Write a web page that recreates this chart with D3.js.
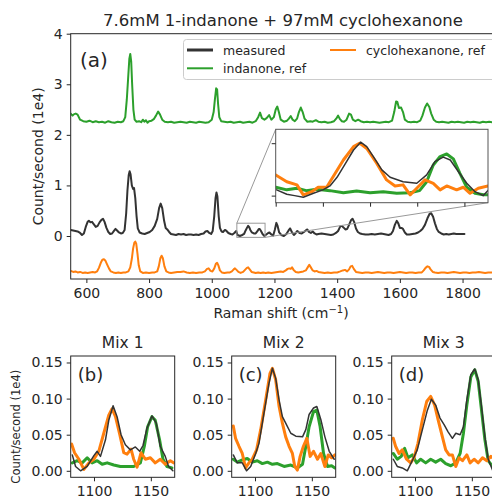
<!DOCTYPE html>
<html>
<head>
<meta charset="utf-8">
<script src="https://cdn.jsdelivr.net/npm/d3@7/dist/d3.min.js"></script>
<style>
  html, body { margin: 0; padding: 0; background: #fff; }
  svg { display: block; }
  text { font-family: "DejaVu Sans", sans-serif; fill: #262626; }
</style>
</head>
<body>
<svg id="fig" width="492" height="499"></svg>
<script>
// ---- spectra: [Raman shift (cm^-1), counts/s (1e4)] ----
const measuredMain = [
  [550,0.12],[558,0.11],[565,0.10],[572,0.09],[580,0.06],[586,0.02],[592,0.05],[598,0.18],[604,0.28],[608,0.30],
  [613,0.27],[618,0.28],[624,0.23],[630,0.18],[636,0.20],[642,0.27],[648,0.32],[653,0.34],[658,0.28],[664,0.16],
  [670,0.08],[676,0.04],[682,0.05],[688,0.10],[693,0.14],[698,0.11],[704,0.07],[710,0.05],[716,0.06],[722,0.12],
  [727,0.45],[731,0.90],[735,1.20],[738,1.28],[741,1.22],[745,1.00],[749,0.93],[752,0.95],[756,0.75],[760,0.40],
  [764,0.15],[770,0.07],[778,0.05],[786,0.04],[794,0.06],[802,0.08],[810,0.12],[818,0.20],[826,0.34],[832,0.55],
  [837,0.64],[842,0.55],[848,0.30],[853,0.16],[858,0.13],[864,0.08],[870,0.04],[878,0.03],[886,0.02],[894,0.04],
  [902,0.03],[910,0.04],[918,0.02],[926,0.03],[934,0.03],[942,0.02],[950,0.03],[958,0.02],[966,0.04],[974,0.05],
  [980,0.09],[986,0.10],[992,0.06],[998,0.04],[1003,0.10],[1008,0.40],[1012,0.75],[1015,0.86],[1018,0.78],[1022,0.40],
  [1026,0.16],[1031,0.09],[1036,0.08],[1042,0.12],[1047,0.10],[1053,0.06],[1060,0.04],[1066,0.03],[1072,0.06],[1078,0.10],
  [1082,0.02],[1090,0.00],[1097,0.02],[1103,0.04],[1108,0.11],[1113,0.17],[1116,0.20],[1119,0.18],[1123,0.12],[1128,0.07],
  [1134,0.05],[1140,0.05],[1145,0.09],[1150,0.14],[1153,0.14],[1157,0.10],[1162,0.04],[1168,0.00],[1174,0.03],[1180,0.06],
  [1184,0.07],[1190,0.03],[1196,0.01],[1201,0.12],[1206,0.26],[1210,0.20],[1215,0.07],[1222,0.02],[1230,0.00],[1238,0.04],
  [1245,0.11],[1250,0.15],[1256,0.07],[1262,0.02],[1268,0.06],[1273,0.10],[1280,0.06],[1287,0.05],[1294,0.08],[1300,0.11],
  [1305,0.13],[1310,0.08],[1316,0.06],[1322,0.09],[1328,0.05],[1334,0.03],[1340,0.04],[1350,0.05],[1360,0.04],[1370,0.03],
  [1380,0.02],[1388,0.03],[1396,0.06],[1403,0.10],[1410,0.19],[1415,0.20],[1420,0.17],[1426,0.13],[1432,0.14],[1438,0.22],
  [1444,0.31],[1449,0.34],[1454,0.28],[1460,0.15],[1466,0.08],[1473,0.05],[1480,0.04],[1490,0.03],[1500,0.03],[1510,0.04],
  [1520,0.03],[1530,0.04],[1540,0.05],[1548,0.04],[1556,0.03],[1564,0.02],[1572,0.04],[1578,0.10],[1584,0.22],[1590,0.30],
  [1595,0.25],[1600,0.16],[1605,0.16],[1610,0.14],[1616,0.07],[1622,0.03],[1630,0.03],[1640,0.04],[1650,0.05],[1658,0.07],
  [1665,0.10],[1672,0.14],[1680,0.22],[1688,0.35],[1695,0.44],[1700,0.45],[1706,0.38],[1712,0.25],[1718,0.14],[1724,0.08],
  [1732,0.05],[1740,0.03],[1748,0.04],[1756,0.03],[1764,0.04],[1772,0.05],[1780,0.04],[1790,0.04],[1800,0.04],[1806,0.04]
];
const indanoneMain = [
  [550,2.42],[556,2.38],[561,2.41],[566,2.42],[572,2.40],[580,2.30],[590,2.27],[600,2.26],[610,2.28],[620,2.25],
  [630,2.27],[640,2.25],[650,2.26],[660,2.24],[670,2.27],[680,2.25],[690,2.24],[700,2.26],[710,2.25],[718,2.27],
  [724,2.35],[729,2.70],[733,3.10],[737,3.50],[740,3.60],[743,3.45],[746,3.00],[750,2.50],[754,2.30],[760,2.26],
  [768,2.27],[775,2.25],[780,2.30],[785,2.26],[790,2.29],[795,2.24],[800,2.27],[808,2.28],[815,2.31],[822,2.38],
  [829,2.46],[835,2.40],[842,2.30],[850,2.26],[860,2.25],[870,2.26],[880,2.24],[890,2.25],[900,2.26],[910,2.25],
  [920,2.24],[930,2.26],[940,2.25],[950,2.24],[960,2.26],[970,2.25],[980,2.24],[990,2.25],[1000,2.30],[1006,2.45],
  [1010,2.70],[1014,2.92],[1017,2.90],[1020,2.62],[1024,2.35],[1030,2.27],[1040,2.26],[1050,2.25],[1060,2.26],[1070,2.24],
  [1080,2.25],[1090,2.26],[1100,2.24],[1110,2.25],[1120,2.26],[1130,2.24],[1140,2.27],[1148,2.35],[1154,2.44],[1160,2.33],
  [1168,2.30],[1175,2.33],[1183,2.39],[1190,2.30],[1198,2.35],[1204,2.50],[1209,2.56],[1214,2.45],[1220,2.30],[1230,2.26],
  [1240,2.28],[1246,2.32],[1252,2.37],[1258,2.30],[1265,2.27],[1272,2.32],[1278,2.45],[1284,2.54],[1290,2.45],[1296,2.32],
  [1305,2.26],[1315,2.27],[1322,2.26],[1332,2.29],[1340,2.26],[1350,2.25],[1360,2.26],[1370,2.24],[1380,2.25],[1390,2.27],
  [1397,2.32],[1403,2.38],[1409,2.31],[1415,2.27],[1422,2.26],[1430,2.30],[1438,2.42],[1444,2.40],[1450,2.30],[1458,2.27],
  [1467,2.30],[1475,2.27],[1485,2.25],[1495,2.26],[1505,2.25],[1515,2.26],[1525,2.25],[1535,2.24],[1545,2.25],[1555,2.26],
  [1565,2.25],[1575,2.28],[1582,2.45],[1588,2.66],[1592,2.65],[1597,2.53],[1604,2.54],[1610,2.45],[1616,2.30],[1625,2.26],
  [1635,2.25],[1645,2.26],[1655,2.25],[1665,2.28],[1672,2.38],[1680,2.54],[1687,2.62],[1694,2.55],[1700,2.42],[1708,2.30],
  [1716,2.26],[1725,2.25],[1735,2.26],[1745,2.25],[1755,2.24],[1765,2.26],[1775,2.25],[1785,2.26],[1795,2.25],[1805,2.24],
  [1815,2.26],[1825,2.25],[1835,2.26],[1845,2.25],[1855,2.24],[1865,2.26],[1875,2.25],[1885,2.26],[1895,2.25]
];
const cyclohexanoneMain = [
  [550,-0.69],[558,-0.71],[565,-0.70],[572,-0.72],[580,-0.71],[588,-0.73],[596,-0.72],[604,-0.73],[612,-0.72],[620,-0.71],
  [628,-0.72],[634,-0.70],[640,-0.63],[646,-0.53],[651,-0.47],[656,-0.46],[661,-0.49],[666,-0.56],[672,-0.64],[678,-0.70],
  [686,-0.72],[694,-0.73],[702,-0.72],[710,-0.73],[718,-0.72],[726,-0.72],[734,-0.70],[740,-0.62],[745,-0.45],[749,-0.25],
  [753,-0.13],[756,-0.11],[759,-0.15],[763,-0.35],[767,-0.58],[772,-0.70],[780,-0.73],[790,-0.72],[800,-0.73],[810,-0.72],
  [818,-0.72],[826,-0.70],[831,-0.60],[836,-0.44],[840,-0.39],[844,-0.44],[849,-0.60],[855,-0.70],[862,-0.72],[870,-0.73],
  [880,-0.72],[890,-0.71],[900,-0.71],[910,-0.70],[920,-0.72],[930,-0.73],[940,-0.72],[950,-0.73],[960,-0.72],[970,-0.72],
  [978,-0.70],[985,-0.65],[990,-0.64],[996,-0.69],[1002,-0.70],[1008,-0.64],[1013,-0.55],[1017,-0.53],[1021,-0.58],[1026,-0.68],
  [1032,-0.72],[1040,-0.73],[1050,-0.72],[1058,-0.72],[1064,-0.70],[1070,-0.66],[1074,-0.64],[1079,-0.67],[1085,-0.71],[1092,-0.73],
  [1100,-0.71],[1106,-0.67],[1112,-0.63],[1116,-0.62],[1121,-0.66],[1127,-0.71],[1134,-0.72],[1140,-0.73],[1148,-0.72],[1156,-0.73],
  [1164,-0.72],[1172,-0.73],[1180,-0.72],[1190,-0.73],[1200,-0.72],[1210,-0.71],[1220,-0.70],[1228,-0.71],[1236,-0.68],[1242,-0.65],
  [1247,-0.64],[1252,-0.65],[1256,-0.62],[1261,-0.67],[1268,-0.71],[1276,-0.72],[1284,-0.71],[1292,-0.70],[1300,-0.68],[1306,-0.62],
  [1311,-0.57],[1316,-0.62],[1322,-0.68],[1328,-0.70],[1334,-0.69],[1340,-0.71],[1350,-0.72],[1360,-0.73],[1370,-0.72],[1380,-0.73],
  [1390,-0.72],[1400,-0.72],[1410,-0.70],[1418,-0.68],[1425,-0.67],[1432,-0.70],[1438,-0.66],[1443,-0.60],[1448,-0.59],[1453,-0.65],
  [1460,-0.71],[1470,-0.72],[1480,-0.73],[1490,-0.72],[1500,-0.72],[1510,-0.73],[1520,-0.72],[1530,-0.71],[1540,-0.72],[1550,-0.73],
  [1560,-0.72],[1570,-0.72],[1580,-0.73],[1590,-0.72],[1600,-0.71],[1610,-0.72],[1620,-0.73],[1630,-0.72],[1640,-0.72],[1650,-0.73],
  [1660,-0.72],[1670,-0.72],[1676,-0.68],[1682,-0.63],[1688,-0.60],[1693,-0.61],[1698,-0.66],[1705,-0.71],[1712,-0.72],[1722,-0.73],
  [1732,-0.72],[1742,-0.72],[1752,-0.73],[1762,-0.72],[1772,-0.71],[1782,-0.72],[1792,-0.73],[1802,-0.72],[1812,-0.72],[1822,-0.73],
  [1832,-0.72],[1842,-0.72],[1852,-0.71],[1862,-0.72],[1872,-0.73],[1882,-0.72],[1895,-0.72]
];

// zoomed window 1080-1170 cm^-1 of the main spectrum
const insetMeasured = [
  [1080.4,0.022],[1084.7,0.005],[1088,0.000],[1091.7,-0.006],[1096,0.009],[1100,0.022],[1103,0.037],[1106,0.07],[1108.7,0.11],
  [1113,0.174],[1116,0.204],[1118.6,0.187],[1121.4,0.149],[1125,0.098],[1128.5,0.07],[1134,0.053],[1139.8,0.047],[1144,0.079],
  [1147.5,0.13],[1151,0.147],[1154,0.136],[1157.4,0.092],[1161,0.047],[1164.5,0.015],[1168,0.0],[1170,0.02]
];
const insetIndanone = [
  [1080,0.032],[1084.7,0.022],[1089,0.028],[1093,0.019],[1097.4,0.024],[1103,0.019],[1108.7,0.011],[1114.3,0.018],[1120,0.011],
  [1125.6,0.015],[1131.3,0.009],[1137,0.011],[1141,0.019],[1144,0.053],[1146.8,0.117],[1149.7,0.149],[1152.5,0.159],[1155.3,0.14],
  [1158.1,0.085],[1161,0.032],[1164.5,0.009],[1168,0.003],[1170,0.003]
];
const insetCyclohexanone = [
  [1080,0.079],[1084.7,0.053],[1089,0.041],[1091.7,0.003],[1095.3,0.015],[1098,0.032],[1101.6,0.032],[1104.4,0.073],[1108.7,0.136],
  [1113,0.187],[1115.7,0.2],[1118.6,0.18],[1122.8,0.124],[1127,0.06],[1130.6,0.037],[1134,0.041],[1137,0.003],[1139.8,0.028],
  [1143.3,0.06],[1146.8,0.047],[1149.7,0.022],[1152.5,0.037],[1156.7,0.022],[1159.5,0.032],[1162.4,0.009],[1165.9,0.028],[1170,0.037]
];

// three mixtures, 1080-1170 cm^-1
const mix1Measured = [
  [1080.9,0.022],[1083.8,0.006],[1088.2,0.0],[1094,0.006],[1099.9,0.021],[1102.8,0.027],[1105.7,0.02],[1110.1,0.043],[1113,0.07],
  [1116.8,0.09],[1120.3,0.075],[1123.8,0.05],[1127.6,0.036],[1132,0.029],[1136.4,0.033],[1140.2,0.027],[1143.1,0.035],[1146.6,0.059],
  [1151,0.076],[1154.8,0.066],[1158.3,0.034],[1162.7,0.02],[1165.6,0.006],[1169.4,0.0]
];
const mix1Indanone = [
  [1080.9,0.011],[1085.2,0.014],[1089.6,0.011],[1094,0.018],[1098.4,0.011],[1102.8,0.014],[1107.2,0.009],[1111.6,0.011],[1117.4,0.008],
  [1123.2,0.006],[1129.1,0.006],[1134.9,0.006],[1140.8,0.011],[1144.3,0.034],[1147.2,0.061],[1151,0.075],[1153.9,0.07],[1157.7,0.043],
  [1160.7,0.016],[1164.2,0.006],[1168.6,0.004]
];
const mix1Cyclohexanone = [
  [1080.3,0.037],[1082.9,0.025],[1086.7,0.016],[1091.1,0.002],[1095.5,0.011],[1099.9,0.016],[1104.2,0.027],[1108.6,0.052],[1113,0.077],
  [1115.9,0.086],[1118.9,0.075],[1122.7,0.05],[1126.2,0.025],[1129.1,0.023],[1132.6,0.03],[1134.9,0.016],[1137.9,0.005],[1141.4,0.025],
  [1145.2,0.016],[1149.6,0.018],[1153.9,0.011],[1158.3,0.016],[1162.7,0.009],[1167.1,0.014],[1170,0.011]
];
const mix2Measured = [
  [1080.9,0.022],[1084.4,0.011],[1088.8,0.011],[1092.6,0.0],[1096.2,0.006],[1100.6,0.024],[1103.5,0.038],[1107.9,0.08],[1112.3,0.121],
  [1115.3,0.142],[1118.2,0.128],[1121.2,0.098],[1124.1,0.075],[1127,0.066],[1131.5,0.052],[1135.9,0.048],[1141.8,0.047],[1144.7,0.057],
  [1147.6,0.078],[1151.5,0.087],[1154.4,0.089],[1157.9,0.071],[1161.5,0.047],[1165.3,0.027],[1169.7,0.016]
];
const mix2Indanone = [
  [1080.9,0.016],[1084.4,0.012],[1088.8,0.015],[1093.2,0.017],[1097.6,0.012],[1102,0.014],[1106.5,0.01],[1110.9,0.012],[1115.3,0.009],
  [1119.7,0.01],[1125.6,0.006],[1131.5,0.008],[1137.3,0.004],[1141.8,0.009],[1144.7,0.034],[1147.6,0.061],[1151.5,0.082],[1154.4,0.084],
  [1157.3,0.061],[1160.3,0.024],[1163.8,0.006],[1167.4,0.007],[1170.3,0.004]
];
const mix2Cyclohexanone = [
  [1080.9,0.062],[1082.9,0.045],[1085.9,0.034],[1088.8,0.024],[1091.7,0.004],[1094.7,0.011],[1097.6,0.016],[1101.4,0.029],[1105,0.057],
  [1109.4,0.098],[1113.2,0.135],[1115.3,0.142],[1118.2,0.126],[1121.2,0.089],[1124.1,0.066],[1127,0.047],[1130,0.034],[1132.9,0.024],
  [1135,0.006],[1137.3,0.001],[1139.7,0.02],[1142.6,0.034],[1145.6,0.045],[1148.5,0.02],[1151.5,0.027],[1155,0.016],[1157.9,0.024],
  [1161.5,0.006],[1164.4,0.022],[1167.4,0.018],[1170.3,0.022]
];
const mix3Measured = [
  [1080.9,0.016],[1084.4,0.006],[1088.8,0.004],[1093.2,0.0],[1097.6,0.014],[1102,0.029],[1106.5,0.057],[1110.9,0.084],[1114.4,0.099],
  [1118.2,0.091],[1122,0.073],[1125.6,0.064],[1129.1,0.054],[1132.9,0.045],[1135.9,0.052],[1139.7,0.05],[1142.6,0.061],[1145.6,0.098],
  [1149.1,0.133],[1152.6,0.141],[1155.6,0.126],[1158.5,0.089],[1161.5,0.047],[1164.4,0.016],[1168.2,0.001]
];
const mix3Indanone = [
  [1080.9,0.024],[1084.4,0.016],[1087.9,0.02],[1090.9,0.031],[1093.8,0.018],[1097.6,0.022],[1101.4,0.011],[1105,0.016],[1109.4,0.011],
  [1113.8,0.016],[1118.2,0.012],[1122.6,0.016],[1127,0.01],[1131.5,0.007],[1135.9,0.011],[1139.7,0.024],[1142.6,0.052],[1145.6,0.091],
  [1149.1,0.13],[1152.6,0.14],[1155.6,0.124],[1158.5,0.084],[1161.5,0.043],[1164.4,0.014],[1168.2,0.006]
];
const mix3Cyclohexanone = [
  [1080.9,0.045],[1082.9,0.034],[1085.9,0.024],[1088.8,0.029],[1092.6,0.016],[1096.2,0.011],[1099.1,0.018],[1102.6,0.038],[1106.5,0.071],
  [1110.3,0.096],[1113.8,0.103],[1117.3,0.091],[1120.3,0.071],[1124.1,0.047],[1127,0.029],[1130,0.022],[1132.9,0.022],[1135.9,0.006],
  [1138.8,0.018],[1141.8,0.014],[1145.6,0.022],[1148.5,0.011],[1152,0.016],[1155.6,0.011],[1159.4,0.018],[1163.2,0.014],[1166.8,0.02],
  [1169.7,0.016]
];

// axis ticks and labels
const mainXTicks = [600, 800, 1000, 1200, 1400, 1600, 1800];
const mainYTicks = [0, 1, 2, 3, 4];
const insetXTicks = [1080, 1100, 1120, 1140, 1160];
const insetYTicks = [0, 0.2];
const mixXTicks = [1100, 1150];
const mixYTicks = [0, 0.05, 0.10, 0.15];
const mixTitles = ["Mix 1", "Mix 2", "Mix 3"];
const panelLetters = ["(b)", "(c)", "(d)"];
const seriesNames = ["measured", "indanone, ref", "cyclohexanone, ref"];

const C_MEAS = "#333333", C_IND = "#2ca02c", C_CYC = "#ff7f0e";
const SPINE = "#262626";

const svg = d3.select("#fig");
const defs = svg.append("defs");
let clipId = 0;

function clipRect(x, y, w, h) {
  const id = "clip" + (clipId++);
  defs.append("clipPath").attr("id", id)
    .append("rect").attr("x", x).attr("y", y).attr("width", w).attr("height", h);
  return "url(#" + id + ")";
}

function drawLine(g, data, xs, ys, color, width) {
  g.append("path")
    .datum(data)
    .attr("fill", "none")
    .attr("stroke", color)
    .attr("stroke-width", width)
    .attr("stroke-linejoin", "round")
    .attr("stroke-linecap", "round")
    .attr("d", d3.line().x(d => xs(d[0])).y(d => ys(d[1])));
}

function styleAxis(g, fontSize) {
  g.select(".domain").remove();
  g.selectAll(".tick line").attr("stroke", SPINE).attr("stroke-width", 1);
  g.selectAll(".tick text")
    .style("font-family", '"DejaVu Sans", sans-serif')
    .style("font-size", fontSize + "px")
    .attr("fill", "#262626");
}

// ---------------- main panel (a) ----------------
const M = { left: 70.7, right: 492.5, top: 33.7, bottom: 279 };
const xMain = d3.scaleLinear().domain([550, 1895.5]).range([M.left, M.right]);
const yMain = d3.scaleLinear().domain([-0.85, 4.0]).range([M.bottom, M.top]);

const gMain = svg.append("g");
const mainLines = gMain.append("g")
  .attr("clip-path", clipRect(M.left, M.top, M.right - M.left, M.bottom - M.top));
drawLine(mainLines, indanoneMain, xMain, yMain, C_IND, 2);
drawLine(mainLines, measuredMain, xMain, yMain, C_MEAS, 2);
drawLine(mainLines, cyclohexanoneMain, xMain, yMain, C_CYC, 2);

// spines
gMain.append("rect")
  .attr("x", M.left).attr("y", M.top)
  .attr("width", M.right - M.left).attr("height", M.bottom - M.top)
  .attr("fill", "none").attr("stroke", SPINE).attr("stroke-width", 1);

const axXMain = gMain.append("g").attr("transform", `translate(0,${M.bottom})`)
  .call(d3.axisBottom(xMain).tickValues(mainXTicks).tickSize(4).tickPadding(5).tickFormat(d3.format("d")));
styleAxis(axXMain, 14);
const axYMain = gMain.append("g").attr("transform", `translate(${M.left},0)`)
  .call(d3.axisLeft(yMain).tickValues(mainYTicks).tickSize(4).tickPadding(4).tickFormat(d3.format("d")));
styleAxis(axYMain, 14);

svg.append("text")
  .attr("x", 283).attr("y", 26)
  .attr("text-anchor", "middle")
  .style("font-size", "16.5px")
  .text("7.6mM 1-indanone + 97mM cyclohexanone");

const xl = svg.append("text")
  .attr("x", 281).attr("y", 318)
  .attr("text-anchor", "middle")
  .style("font-size", "14px");
xl.append("tspan").text("Raman shift (cm");
xl.append("tspan").attr("dy", -5).style("font-size", "10px").text("\u22121");
xl.append("tspan").attr("dy", 5).text(")");

svg.append("text")
  .attr("transform", `translate(43,${(M.top + M.bottom) / 2}) rotate(-90)`)
  .attr("text-anchor", "middle")
  .style("font-size", "14px")
  .text("Count/second (1e4)");

svg.append("text")
  .attr("x", 80).attr("y", 67)
  .style("font-size", "20px")
  .text("(a)");

// legend
const lg = svg.append("g");
lg.append("rect")
  .attr("x", 183.5).attr("y", 39.5).attr("width", 320).attr("height", 40)
  .attr("rx", 3)
  .attr("fill", "#ffffff").attr("fill-opacity", 0.85)
  .attr("stroke", "#cccccc").attr("stroke-width", 1);
const legendItems = [
  { name: seriesNames[0], color: C_MEAS, w: 3, x: 187, y: 50 },
  { name: seriesNames[1], color: C_IND, w: 2, x: 187, y: 68.3 },
  { name: seriesNames[2], color: C_CYC, w: 2, x: 330, y: 50 }
];
legendItems.forEach(it => {
  lg.append("line")
    .attr("x1", it.x).attr("x2", it.x + 26)
    .attr("y1", it.y).attr("y2", it.y)
    .attr("stroke", it.color).attr("stroke-width", it.w);
  lg.append("text")
    .attr("x", it.x + 36).attr("y", it.y + 4.5)
    .style("font-size", "12.5px")
    .text(it.name);
});

// ---------------- inset ----------------
const I = { left: 275.7, right: 488, top: 129.3, bottom: 202.7 };
const insetX = [1080, 1170], insetY = [-0.027, 0.253];
const xIn = d3.scaleLinear().domain(insetX).range([I.left, I.right]);
const yIn = d3.scaleLinear().domain(insetY).range([I.bottom, I.top]);

// zoom box on the main spectrum and its connectors
const zx0 = xMain(insetX[0]), zx1 = xMain(insetX[1]);
const zy0 = yMain(insetY[1]), zy1 = yMain(insetY[0]);
gMain.append("rect")
  .attr("x", zx0).attr("y", zy0).attr("width", zx1 - zx0).attr("height", zy1 - zy0)
  .attr("fill", "none").attr("stroke", "#999999").attr("stroke-width", 1);
gMain.append("line")
  .attr("x1", zx0).attr("y1", zy0).attr("x2", I.left).attr("y2", I.top)
  .attr("stroke", "#999999").attr("stroke-width", 1);
gMain.append("line")
  .attr("x1", zx1).attr("y1", zy1).attr("x2", I.right).attr("y2", I.bottom)
  .attr("stroke", "#999999").attr("stroke-width", 1);

const gIn = svg.append("g");
gIn.append("rect")
  .attr("x", I.left).attr("y", I.top).attr("width", I.right - I.left).attr("height", I.bottom - I.top)
  .attr("fill", "#ffffff");
const inLines = gIn.append("g")
  .attr("clip-path", clipRect(I.left, I.top, I.right - I.left, I.bottom - I.top));
drawLine(inLines, insetIndanone, xIn, yIn, C_IND, 3);
drawLine(inLines, insetCyclohexanone, xIn, yIn, C_CYC, 3);
drawLine(inLines, insetMeasured, xIn, yIn, C_MEAS, 1.5);
gIn.append("rect")
  .attr("x", I.left).attr("y", I.top).attr("width", I.right - I.left).attr("height", I.bottom - I.top)
  .attr("fill", "none").attr("stroke", "#555555").attr("stroke-width", 1);
const axXIn = gIn.append("g").attr("transform", `translate(0,${I.bottom})`)
  .call(d3.axisBottom(xIn).tickValues(insetXTicks).tickSize(4).tickFormat(""));
styleAxis(axXIn, 10);
const axYIn = gIn.append("g").attr("transform", `translate(${I.left},0)`)
  .call(d3.axisLeft(yIn).tickValues(insetYTicks).tickSize(4).tickFormat(""));
styleAxis(axYIn, 10);

// ---------------- mixture panels ----------------
const mixSets = [
  [mix1Measured, mix1Indanone, mix1Cyclohexanone],
  [mix2Measured, mix2Indanone, mix2Cyclohexanone],
  [mix3Measured, mix3Indanone, mix3Cyclohexanone]
];
const P = { lefts: [70.7, 231.7, 391.7], width: 104, top: 356, bottom: 477.3 };
const yMix = d3.scaleLinear().domain([-0.009, 0.159]).range([P.bottom, P.top]);

mixSets.forEach((set, i) => {
  const x0 = P.lefts[i];
  const xs = d3.scaleLinear().domain([1079.5, 1171]).range([x0, x0 + P.width]);
  const g = svg.append("g");
  const lines = g.append("g")
    .attr("clip-path", clipRect(x0, P.top, P.width, P.bottom - P.top));
  drawLine(lines, set[1], xs, yMix, C_IND, 3);
  drawLine(lines, set[2], xs, yMix, C_CYC, 3);
  drawLine(lines, set[0], xs, yMix, C_MEAS, 1.5);
  g.append("rect")
    .attr("x", x0).attr("y", P.top).attr("width", P.width).attr("height", P.bottom - P.top)
    .attr("fill", "none").attr("stroke", SPINE).attr("stroke-width", 1);
  const ax = g.append("g").attr("transform", `translate(0,${P.bottom})`)
    .call(d3.axisBottom(xs).tickValues(mixXTicks).tickSize(4).tickPadding(5).tickFormat(d3.format("d")));
  styleAxis(ax, 14);
  const ay = g.append("g").attr("transform", `translate(${x0},0)`)
    .call(d3.axisLeft(yMix).tickValues(mixYTicks).tickSize(4).tickPadding(4).tickFormat(d3.format(".2f")));
  styleAxis(ay, 14);
  g.append("text")
    .attr("x", x0 + P.width / 2).attr("y", 348)
    .attr("text-anchor", "middle")
    .style("font-size", "15.5px")
    .text(mixTitles[i]);
  g.append("text")
    .attr("x", x0 + 7).attr("y", 381)
    .style("font-size", "18px")
    .text(panelLetters[i]);
});

svg.append("text")
  .attr("transform", `translate(20,${(P.top + P.bottom) / 2 + 10}) rotate(-90)`)
  .attr("text-anchor", "middle")
  .style("font-size", "12.5px")
  .attr("textLength", 114)
  .attr("lengthAdjust", "spacingAndGlyphs")
  .text("Count/second (1e4)");
</script>
</body>
</html>
